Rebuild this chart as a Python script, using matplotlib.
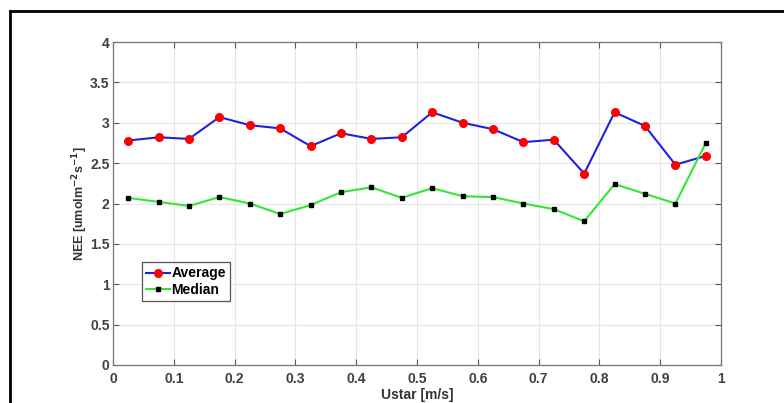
import numpy as np
import matplotlib.pyplot as plt
from matplotlib.lines import Line2D

# Data
ustar = [0.025, 0.075, 0.125, 0.175, 0.225, 0.275, 0.325, 0.375, 0.425, 0.475,
         0.525, 0.575, 0.625, 0.675, 0.725, 0.775, 0.825, 0.875, 0.925, 0.975]
nee_average = [2.78, 2.82, 2.80, 3.07, 2.97, 2.93, 2.71, 2.87, 2.80, 2.82,
               3.13, 3.00, 2.92, 2.76, 2.79, 2.37, 3.13, 2.96, 2.48, 2.59]
nee_median = [2.07, 2.02, 1.97, 2.08, 2.00, 1.87, 1.98, 2.14, 2.20, 2.07,
              2.19, 2.09, 2.08, 2.00, 1.93, 1.78, 2.24, 2.12, 2.00, 2.75]
xticks = [0, 0.1, 0.2, 0.3, 0.4, 0.5, 0.6, 0.7, 0.8, 0.9, 1]
yticks = [0, 0.5, 1, 1.5, 2, 2.5, 3, 3.5, 4]

plt.rcParams['font.family'] = ['Liberation Sans', 'DejaVu Sans']

fig = plt.figure(figsize=(7.84, 4.03), dpi=100)
ax = fig.add_axes([113 / 784, 1 - 365 / 403, (721 - 113) / 784, (365 - 42) / 403])

ax.plot(ustar, nee_average, color='#2020e0', linewidth=1.5, marker='o',
        markersize=5.5, markerfacecolor='#ff0000', markeredgecolor='#ff0000',
        label='Average')
ax.plot(ustar, nee_median, color='#33e633', linewidth=1.5, marker='s',
        markersize=3.2, markerfacecolor='black', markeredgecolor='black',
        label='Median')

ax.set_xlim(0, 1)
ax.set_ylim(0, 4)
ax.set_xticks(xticks)
ax.set_yticks(yticks)
ax.set_xticklabels([f'{t:g}' for t in xticks])
ax.set_yticklabels([f'{t:g}' for t in yticks])
ax.tick_params(direction='in', top=True, right=True, length=4, width=0.8,
               color='#555555', labelsize=10, labelcolor='#404040', pad=5)
ax.tick_params(axis='y', pad=2.5)
for lab in ax.get_xticklabels() + ax.get_yticklabels():
    lab.set_fontweight('bold')
for sp in ax.spines.values():
    sp.set_color('#777777')
    sp.set_linewidth(0.9)
ax.grid(True, color='#e6e6e6', linewidth=0.8)
ax.set_axisbelow(True)

ax.set_xlabel('Ustar [m/s]', fontsize=10, fontweight='bold', color='#333333')
ax.xaxis.set_label_coords(0.5, -0.072)
ax.set_ylabel(r'NEE [umolm$^{\mathbf{-2}}$s$^{\mathbf{-1}}$]', fontsize=9,
              fontweight='bold', color='#333333')
ax.yaxis.set_label_coords(-0.054, 0.5)
ax.yaxis.label.set_va('center')

leg = ax.legend(loc='upper left', bbox_to_anchor=(0.048, 0.318),
                prop={'weight': 'bold', 'size': 10}, handlelength=1.7,
                handletextpad=0.1, borderpad=0.3, labelspacing=0.15,
                borderaxespad=0, fancybox=False, framealpha=1)
leg.get_frame().set_edgecolor('#555555')
leg.get_frame().set_linewidth(0.9)

# outer figure frame (top and left edges visible)
fig.add_artist(Line2D([10 / 784, 10 / 784], [0, 1 - 11 / 403], color='black', linewidth=2,
                      transform=fig.transFigure))
fig.add_artist(Line2D([10 / 784, 1], [1 - 11 / 403, 1 - 11 / 403], color='black', linewidth=2,
                      transform=fig.transFigure))

fig.savefig('out.png', dpi=100)
